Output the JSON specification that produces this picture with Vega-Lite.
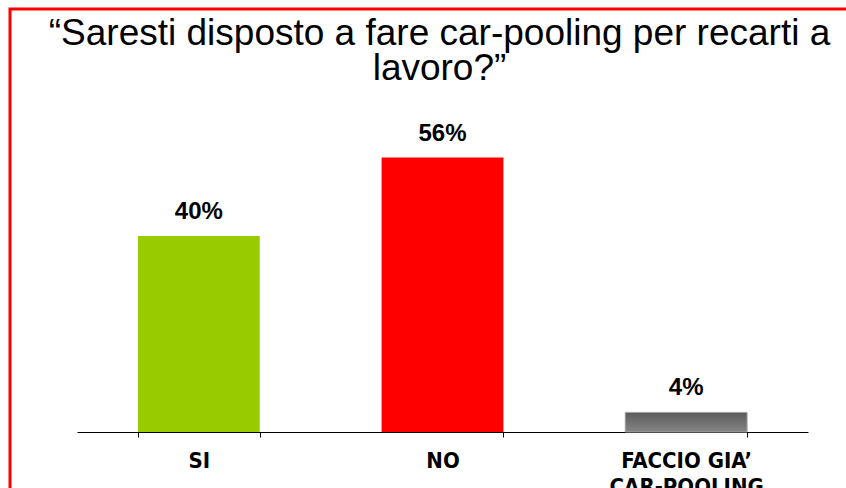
{
  "$schema": "https://vega.github.io/schema/vega-lite/v6.json",
  "autosize": {"type": "none"},
  "padding": {"left": 10, "top": 9, "right": -4, "bottom": -4},
  "width": 840,
  "height": 483,
  "background": "white",
  "config": {
    "view": {"stroke": "#FF0000", "strokeWidth": 3, "fill": "white"}
  },
  "title": {
    "text": ["“Saresti disposto a fare car-pooling per recarti a", "lavoro?”"],
    "font": "Liberation Sans",
    "fontSize": 37,
    "fontWeight": "normal",
    "color": "#000000",
    "lineHeight": 35,
    "anchor": "middle",
    "frame": "group",
    "dx": 9.5,
    "offset": -79
  },
  "data": {
    "values": [
      {"risposta": "SI", "valore": 40, "etichetta": "40%"},
      {"risposta": "NO", "valore": 56, "etichetta": "56%"},
      {"risposta": "FACCIO GIA’|CAR-POOLING", "valore": 4, "etichetta": "4%"}
    ]
  },
  "encoding": {
    "x": {
      "field": "risposta",
      "type": "nominal",
      "sort": null,
      "scale": {"range": [67, 798], "paddingInner": 0.5, "paddingOuter": 0.25},
      "axis": {
        "title": null,
        "offset": -60,
        "labelAngle": 0,
        "labelExpr": "split(datum.label, '|')",
        "labelFont": "DejaVu Sans Condensed",
        "labelFontWeight": "bold",
        "labelFontSize": 22,
        "labelColor": "#000000",
        "labelLineHeight": 26,
        "labelPadding": 13,
        "domainColor": "#000000",
        "domainWidth": 1,
        "tickColor": "#000000",
        "tickWidth": 1,
        "tickSize": 5,
        "tickBand": "extent",
        "grid": false
      }
    },
    "y": {
      "field": "valore",
      "type": "quantitative",
      "scale": {"domain": [0, 60], "range": [423, 129]},
      "axis": null
    }
  },
  "layer": [
    {
      "mark": {"type": "bar"},
      "encoding": {
        "fill": {
          "condition": {
            "test": "datum.risposta === 'FACCIO GIA’|CAR-POOLING'",
            "value": {
              "gradient": "linear",
              "x1": 0, "y1": 0, "x2": 0, "y2": 1,
              "stops": [
                {"offset": 0, "color": "#5a5a5a"},
                {"offset": 1, "color": "#858585"}
              ]
            }
          },
          "field": "risposta",
          "type": "nominal",
          "sort": null,
          "scale": {"range": ["#99CC00", "#FF0000", "#6e6e6e"]},
          "legend": null
        },
        "stroke": {
          "condition": {
            "test": "datum.risposta === 'FACCIO GIA’|CAR-POOLING'",
            "value": "#a0a0a0"
          },
          "value": null
        }
      }
    },
    {
      "mark": {
        "type": "text",
        "font": "Liberation Sans",
        "fontWeight": "bold",
        "fontSize": 24,
        "color": "#000000",
        "baseline": "alphabetic",
        "dy": -17
      },
      "encoding": {
        "text": {"field": "etichetta"}
      }
    }
  ]
}
